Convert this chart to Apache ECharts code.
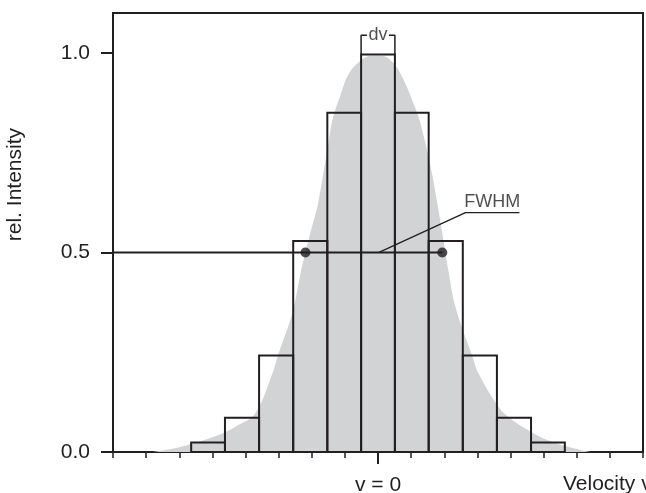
<!DOCTYPE html>
<html>
<head>
<meta charset="utf-8">
<script src="https://cdn.jsdelivr.net/npm/echarts@6/dist/echarts.min.js"></script>
<style>
  html, body { margin: 0; padding: 0; background: #fff; }
  #chart { width: 646px; height: 493px; }
</style>
</head>
<body>
<div id="chart"></div>
<script>
// gray line profile (velocity in tick units, rel. intensity)
const profileV = [-6.8, -6.1, -5.4, -4.65, -4.2, -3.72, -3.19, -3.02, -2.59, -2.34, -2.19, -1.94, -1.83, -1.65,
    -1.48, -1.38, -1.13, -0.88, -0.5, -0.2, 0.1, 0.4, 0.68, 1.18, 1.41, 1.63, 1.81, 1.98, 2.14, 2.34, 2.84,
    3.04, 3.64, 3.94, 4.55, 5.15, 5.96, 6.4];
const profileI = [0, 0.01, 0.026, 0.048, 0.068, 0.095, 0.196, 0.242, 0.347, 0.447, 0.501, 0.581, 0.614, 0.698,
    0.781, 0.83, 0.895, 0.948, 0.982, 0.993, 0.993, 0.98, 0.948, 0.85, 0.781, 0.698, 0.614, 0.529, 0.447, 0.363, 0.242,
    0.196, 0.113, 0.088, 0.054, 0.029, 0.008, 0];

// histogram bins of width dv
const binEdges = [-5.64, -4.62, -3.59, -2.56, -1.53, -0.51, 0.51, 1.53, 2.56, 3.59, 4.62, 5.64];
const binHeights = [0.024, 0.086, 0.242, 0.529, 0.85, 0.996, 0.85, 0.529, 0.242, 0.086, 0.024];

// FWHM markers and annotations
const fwhmPoints = [[-2.19, 0.5], [1.94, 0.5]];
const halfLine = [[-8, 0.5], [1.94, 0.5]];
const leader = [[0.03, 0.5], [2.64, 0.6], [4.27, 0.6]];
const fwhmLabelAt = [3.45, 0.6];
const dvLeft = [[-0.51, 0.996], [-0.51, 1.044], [-0.33, 1.044]];
const dvRight = [[0.33, 1.044], [0.51, 1.044], [0.51, 0.996]];
const dvLabelAt = [0, 1.044];

const yTicks = [0, 0.5, 1.0];

const ink = '#231f20';
const font = 'Liberation Sans, Arial, Helvetica, sans-serif';

const chart = echarts.init(document.getElementById('chart'));

const bins = binHeights.map((h, i) => [binEdges[i], binEdges[i + 1], h]);

chart.setOption({
    animation: false,
    grid: {
        left: 113, right: 3, top: 13, bottom: 41,
        outerBoundsMode: 'none',
        show: true, borderColor: ink, borderWidth: 2
    },
    xAxis: [
        {
            type: 'value', min: -8, max: 8, interval: 1,
            axisLine: { onZero: false, lineStyle: { color: ink, width: 2 } },
            axisTick: { length: 6, lineStyle: { color: ink, width: 1.5 } },
            axisLabel: {
                customValues: [0],
                formatter: () => 'v = 0',
                color: ink, fontSize: 21, fontFamily: font, margin: 23
            },
            splitLine: { show: false }
        },
        {
            type: 'value', min: -8, max: 8, position: 'bottom',
            axisLine: { show: false, onZero: false },
            axisTick: { customValues: [0], length: 12, lineStyle: { color: ink, width: 2 } },
            axisLabel: { show: false },
            splitLine: { show: false }
        }
    ],
    yAxis: {
        type: 'value', min: 0, max: 1.1,
        axisLine: { onZero: false, lineStyle: { color: ink, width: 2 } },
        axisTick: { customValues: yTicks, length: 12, lineStyle: { color: ink, width: 2 } },
        axisLabel: {
            customValues: yTicks,
            formatter: v => v.toFixed(1),
            color: ink, fontSize: 21, fontFamily: font, margin: 23
        },
        splitLine: { show: false }
    },
    graphic: [
        {
            type: 'text', left: 5, top: 128, rotation: Math.PI / 2,
            style: { text: 'rel. Intensity', fill: ink, font: '21px ' + font }
        },
        {
            type: 'text', left: 563, top: 474,
            style: { text: 'Velocity v', fill: ink, font: '21px ' + font }
        }
    ],
    series: [
        {
            type: 'line', data: profileV.map((v, i) => [v, profileI[i]]),
            smooth: 0.4, showSymbol: false, silent: true,
            lineStyle: { width: 0 },
            areaStyle: { color: '#d1d3d4', opacity: 1 },
            z: 1
        },
        {
            type: 'custom', data: bins, z: 3,
            encode: { x: [0, 1], y: 2 },
            renderItem: (params, api) => {
                const p0 = api.coord([api.value(0), 0]);
                const p1 = api.coord([api.value(1), api.value(2)]);
                return {
                    type: 'rect',
                    shape: { x: p0[0], y: p1[1], width: p1[0] - p0[0], height: p0[1] - p1[1] },
                    style: { fill: 'none', stroke: ink, lineWidth: 2 }
                };
            }
        },
        {
            type: 'line', data: halfLine, showSymbol: false, z: 4,
            lineStyle: { color: ink, width: 2 }
        },
        {
            type: 'line', data: leader, showSymbol: false, z: 4,
            lineStyle: { color: ink, width: 1.3 }
        },
        {
            type: 'line', data: dvLeft, showSymbol: false, z: 4,
            lineStyle: { color: ink, width: 1.5 }
        },
        {
            type: 'line', data: dvRight, showSymbol: false, z: 4,
            lineStyle: { color: ink, width: 1.5 }
        },
        {
            type: 'scatter', data: fwhmPoints, symbolSize: 10, z: 5,
            itemStyle: { color: ink }
        },
        {
            type: 'scatter', data: [fwhmLabelAt], symbolSize: 0, z: 5,
            label: {
                show: true, position: 'top', distance: 2, formatter: 'FWHM',
                color: ink, fontSize: 18, fontFamily: font
            }
        },
        {
            type: 'scatter', data: [dvLabelAt], symbolSize: 0, z: 5,
            label: {
                show: true, position: 'inside', formatter: 'dv',
                color: ink, fontSize: 18, fontFamily: font
            }
        }
    ]
});
</script>
</body>
</html>
